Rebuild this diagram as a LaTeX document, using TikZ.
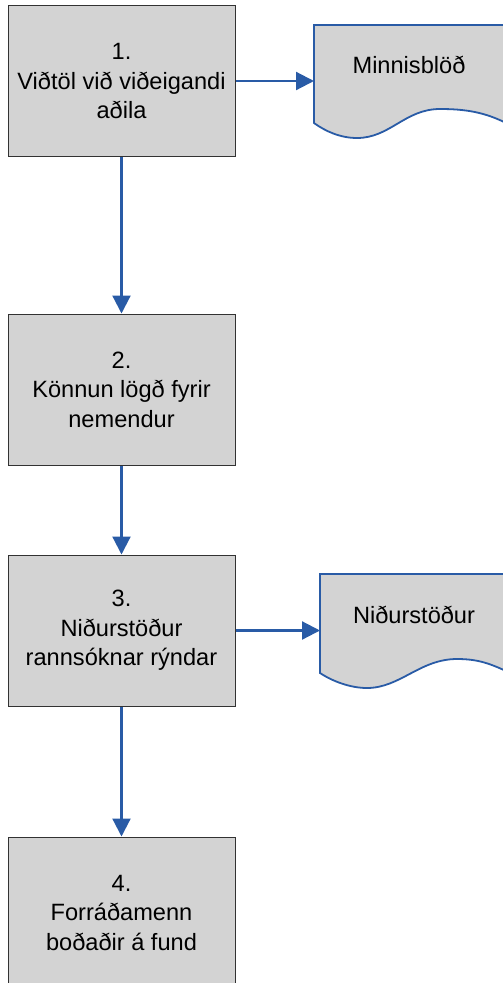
\documentclass[tikz,border=0pt]{standalone}
\usepackage{fontspec}
\setmainfont{Liberation Sans}
\usetikzlibrary{arrows.meta}
\definecolor{boxfill}{RGB}{211,211,211}
\definecolor{flowblue}{RGB}{41,91,166}
\definecolor{boxline}{RGB}{50,50,50}
\begin{document}
\begin{tikzpicture}[x=1pt,y=-1pt,
  stepbox/.style={draw=boxline, line width=1pt, fill=boxfill, minimum width=227pt, minimum height=151pt, inner sep=0pt, align=center, font=\fontsize{23.6}{29.5}\selectfont},
  doclabel/.style={font=\fontsize{23.6}{29.5}\selectfont, inner sep=0pt, anchor=base},
  docshape/.style={draw=flowblue, line width=1.8pt, fill=boxfill},
  flow/.style={draw=flowblue, line width=2.2pt, -{Triangle[length=18pt,width=18pt]}}]
\useasboundingbox (0,0) rectangle (503,983);
\clip (0,0) rectangle (503,983);
% steps
\node[stepbox] (b1) at (121.5,81) {1.\\Viðtöl við viðeigandi\\aðila};
\node[stepbox] (b2) at (121.5,389.5) {2.\\Könnun lögð fyrir\\nemendur};
\node[stepbox] (b3) at (121.5,630.5) {3.\\Niðurstöður\\rannsóknar rýndar};
\node[stepbox] (b4) at (121.5,912.5) {4.\\Forráðamenn\\boðaðir á fund};
% documents
\path[docshape] (314,123) -- (314,25) -- (508,25) -- (508,124)
  .. controls (485,112) and (465,109) .. (440,109)
  .. controls (405,109) and (390,138) .. (357,138)
  .. controls (340,138) and (325,131) .. (314,123) -- cycle;
\node[doclabel] (d1) at (409,73) {Minnisblöð};
\coordinate (d1w) at (314,81);
\path[docshape] (320,673) -- (320,574) -- (512,574) -- (512,674)
  .. controls (490,663) and (477,659) .. (457,659)
  .. controls (420,659) and (400,688) .. (367,688)
  .. controls (350,688) and (332,681) .. (320,673) -- cycle;
\node[doclabel] (d2) at (414,623) {Niðurstöður};
\coordinate (d2w) at (320,630.5);
% connectors
\draw[flow] (b1.east) -- (d1w);
\draw[flow] (b3.east) -- (d2w);
\draw[flow] (b1.south) -- (b2.north);
\draw[flow] (b2.south) -- (b3.north);
\draw[flow] (b3.south) -- (b4.north);
\end{tikzpicture}
\end{document}
